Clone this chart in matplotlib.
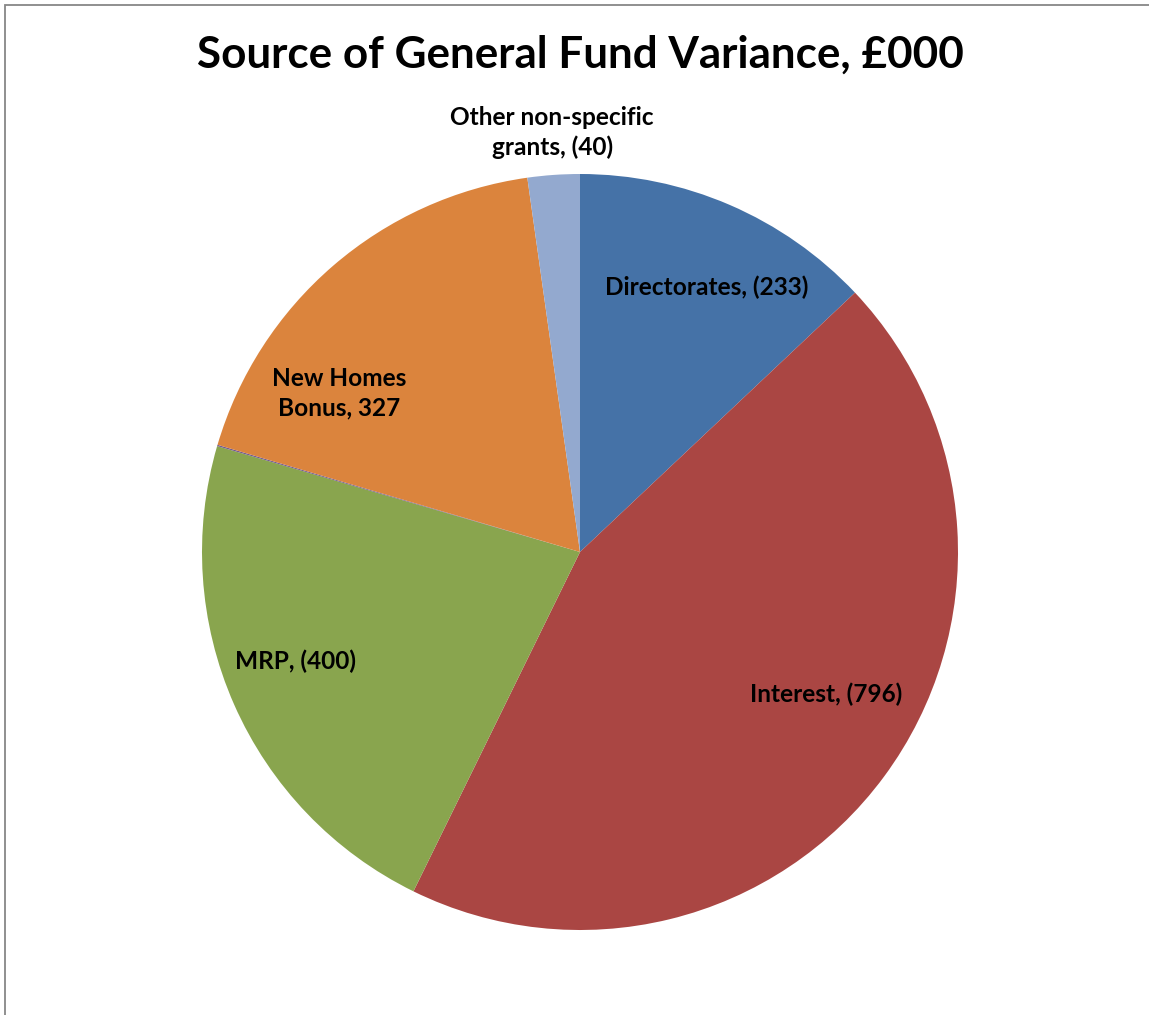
import matplotlib
matplotlib.use('Agg')
import matplotlib.pyplot as plt
import matplotlib.patches as mpatches
import numpy as np

# General fund variance by source, £000 (negative = underspend)
categories = ['Directorates', 'Interest', 'MRP', '', 'New Homes\nBonus', 'Other non-specific\ngrants']
variance = [-233, -796, -400, 1, 327, -40]
colors = ['#4572A7', '#AA4643', '#89A54E', '#71588F', '#DB843D', '#93A9CF']

# label placement: (angle shift in deg, radius as fraction of pie radius)
label_pos = [(2.3, 0.776), (-6.4, 0.753), (2.8, 0.806), None, (-15.8, 0.763), (0.2, 1.113)]


def fmt(v):
    return '({:d})'.format(-v) if v < 0 else '{:d}'.format(v)


W, H = 1149, 1015
fig = plt.figure(figsize=(W / 100, H / 100), dpi=100)
fig.patch.set_facecolor('white')

cx, cy, R = 580, 552, 378
ax = fig.add_axes([(cx - R) / W, (H - cy - R) / H, 2 * R / W, 2 * R / H])

sizes = np.abs(variance)
wedges, _ = ax.pie(sizes, colors=colors, startangle=90, counterclock=False,
                   radius=1, wedgeprops=dict(linewidth=0))
ax.set_xlim(-1, 1)
ax.set_ylim(-1, 1)
ax.set_aspect('equal')
ax.axis('off')

total = sizes.sum()
cum = 0.0
for name, v, s, pos in zip(categories, variance, sizes, label_pos):
    mid = cum + s / 2.0
    cum += s
    if pos is None:
        continue
    ang = mid / total * 360.0 + pos[0]   # clockwise from top
    rad = np.deg2rad(ang)
    x = pos[1] * np.sin(rad)
    y = pos[1] * np.cos(rad)
    ax.text(x, y, '{}, {}'.format(name, fmt(v)), ha='center', va='center',
            fontsize=17.6, fontweight='bold', family='Lato', color='black',
            linespacing=1.32, clip_on=False)

fig.text(580 / W, 1 - 55 / H, 'Source of General Fund Variance, £000',
         ha='center', va='center', fontsize=31.7, fontweight='bold', family='Lato')

# chart frame, only the top and left edges fall inside the image
frame = mpatches.Rectangle((4.5 / W, -0.1), 1.2, 1.1 - 5 / H, transform=fig.transFigure,
                           fill=False, edgecolor='#878787', linewidth=1.3)
fig.patches.append(frame)

fig.savefig('out.png', dpi=100, facecolor='white')
